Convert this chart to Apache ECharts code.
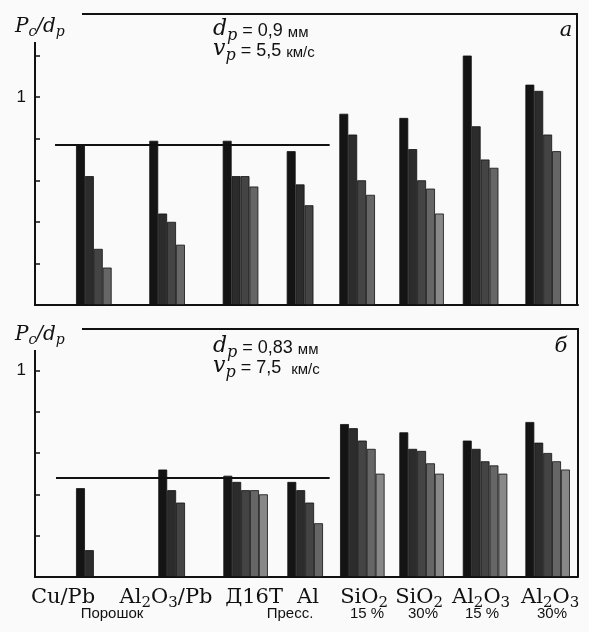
<!DOCTYPE html>
<html><head><meta charset="utf-8">
<script src="https://cdn.jsdelivr.net/npm/echarts@6/dist/echarts.min.js"></script>
<style>html,body{margin:0;padding:0;background:#fafafa}#c{width:589px;height:632px}</style>
</head><body><div id="c"></div>
<script>
// ---- data ----
const categories = ['Cu/Pb', 'Al2O3/Pb', 'Д16Т', 'Al', 'SiO2', 'SiO2', 'Al2O3', 'Al2O3'];
const subCategories = ['Порошок', 'Пресс.', '15 %', '30%', '15 %', '30%'];
// panel a: d_p = 0,9 mm, v_p = 5,5 km/s  (bars per group, decreasing shade order)
const panelA = [
  [0.77, 0.62, 0.27, 0.18],
  [0.79, 0.44, 0.40, 0.29],
  [0.79, 0.62, 0.62, 0.57],
  [0.74, 0.58, 0.48],
  [0.92, 0.82, 0.60, 0.53],
  [0.90, 0.75, 0.60, 0.56, 0.44],
  [1.20, 0.86, 0.70, 0.66],
  [1.06, 1.03, 0.82, 0.74]
];
// panel b: d_p = 0,83 mm, v_p = 7,5 km/s
const panelB = [
  [0.43, 0.13],
  [0.52, 0.42, 0.36],
  [0.49, 0.46, 0.42, 0.42, 0.40],
  [0.46, 0.42, 0.36, 0.26],
  [0.74, 0.72, 0.66, 0.62, 0.50],
  [0.70, 0.62, 0.61, 0.55, 0.50],
  [0.66, 0.62, 0.56, 0.54, 0.50],
  [0.75, 0.65, 0.60, 0.56, 0.52]
];
const refLevels = [0.77, 0.48];
const yTickValues = [[0.2, 0.4, 0.6, 0.8, 1.0, 1.2], [0.2, 0.4, 0.6, 0.8, 1.0]];
const yLabelValues = [1];

// ---- layout (positions / sizes / styles) ----
const L = {
  left: 35, right: 11, W: 589, H: 632,
  tops: [14, 329], bottomsY: [305, 577],
  xMax: 61, yMax: [1.4, 1.2],
  groupStart: [
    [4.61, 12.84, 21.09, 28.28, 34.19, 40.93, 48.06, 55.09],
    [4.61, 13.85, 21.16, 28.35, 34.27, 40.93, 48.06, 55.09]
  ],
  refSpan: [[2.25, 33.1], [2.36, 33.1]],
  labelX: [3.15, 14.72, 24.61, 30.67, 36.97, 43.15, 50.11, 57.87],
  subLabelPx: [112, 290, 367, 423, 482, 552]
};
const shades = ['#141414', '#2c2c2c', '#444444', '#666666', '#888888'];
const ink = '#111';
const unitPx = (L.W - L.left - L.right) / L.xMax;

function toRich(str) {
  let out = '', buf = '';
  for (let i = 0; i < str.length; i++) {
    const ch = str[i], prev = str[i - 1] || '';
    if (/\d/.test(ch) && /[A-Za-z]/.test(prev)) {
      if (buf) { out += '{m|' + buf + '}'; buf = ''; }
      out += '{s|' + ch + '}';
    } else buf += ch;
  }
  if (buf) out += '{m|' + buf + '}';
  return out;
}

const panels = [panelA, panelB];
const grids = [], xAxes = [], yAxes = [], series = [];
panels.forEach((groups, p) => {
  grids.push({ left: L.left, right: L.right, top: L.tops[p], bottom: L.H - L.bottomsY[p] });
  xAxes.push({
    gridIndex: p, type: 'value', min: 0, max: L.xMax,
    axisLine: { show: true, onZero: false, lineStyle: { color: ink, width: 2 } },
    axisTick: { show: false }, splitLine: { show: false },
    axisLabel: p === 1 ? {
      show: true, customValues: L.labelX, margin: 10, color: ink,
      formatter: (v) => {
        let best = 0;
        L.labelX.forEach((x, i) => { if (Math.abs(x - v) < Math.abs(L.labelX[best] - v)) best = i; });
        return toRich(categories[best]);
      },
      rich: {
        m: { fontFamily: 'DejaVu Serif', fontSize: 21, color: ink, verticalAlign: 'bottom', padding: [0, 0, 3, 0] },
        s: { fontFamily: 'DejaVu Serif', fontSize: 15, color: ink, verticalAlign: 'bottom' }
      }
    } : { show: false }
  });
  yAxes.push({
    gridIndex: p, type: 'value', min: 0, max: L.yMax[p], interval: 0.2,
    axisLine: { show: false }, splitLine: { show: false },
    axisTick: { show: true, inside: true, length: 5, customValues: yTickValues[p], lineStyle: { color: ink, width: 1.5 } },
    axisLabel: { show: true, customValues: yLabelValues, formatter: (v) => String(Math.round(v)), color: ink,
      fontFamily: 'Liberation Sans', fontSize: 17, margin: 9 }
  });
  for (let k = 0; k < 5; k++) {
    const data = [];
    groups.forEach((g, gi) => {
      if (g[k] != null) data.push([L.groupStart[p][gi] + k + 0.5, g[k]]);
    });
    const s = {
      type: 'bar', xAxisIndex: p, yAxisIndex: p, barWidth: unitPx, barGap: '-100%',
      data, silent: true,
      itemStyle: { color: shades[k], borderColor: ink, borderWidth: 0.8 }
    };
    if (k === 0) {
      s.markLine = {
        silent: true, symbol: 'none', animation: false,
        label: { show: false },
        lineStyle: { color: ink, width: 2, type: 'solid' },
        data: [[{ coord: [L.refSpan[p][0], refLevels[p]] }, { coord: [L.refSpan[p][1], refLevels[p]] }]]
      };
    }
    series.push(s);
  }
});

function line(x1, y1, x2, y2) {
  return { type: 'line', silent: true, shape: { x1, y1, x2, y2 }, style: { stroke: ink, lineWidth: 2 } };
}
function rtext(x, y, text, rich, align) {
  return { type: 'text', silent: true, x, y, style: { text, rich, align: align || 'left', verticalAlign: 'middle', fill: ink } };
}
const annRich = {
  i: { fontFamily: 'DejaVu Serif', fontStyle: 'italic', fontSize: 22, fill: ink, verticalAlign: 'bottom', padding: [0, 0, 3, 0] },
  s: { fontFamily: 'DejaVu Serif', fontStyle: 'italic', fontSize: 16, fill: ink, verticalAlign: 'bottom' },
  n: { fontFamily: 'Liberation Sans', fontSize: 18, fill: ink, verticalAlign: 'bottom', padding: [0, 0, 3, 0] },
  u: { fontFamily: 'Liberation Sans', fontSize: 15, fill: ink, verticalAlign: 'bottom', padding: [0, 0, 3, 0] }
};
const ylRich = {
  i: { fontFamily: 'DejaVu Serif', fontStyle: 'italic', fontSize: 20, fill: ink, verticalAlign: 'bottom', padding: [0, 0, 3, 0] },
  s: { fontFamily: 'DejaVu Serif', fontStyle: 'italic', fontSize: 14, fill: ink, verticalAlign: 'bottom' }
};
const graphic = [
  line(82, 14, 578, 14), line(577, 14, 577, 305), line(35, 42, 35, 306),
  line(82, 329, 579, 329), line(578, 329, 578, 577), line(35, 350, 35, 578),
  rtext(15, 28, '{i|P}{s|c}{i|/d}{s|p}', ylRich),
  rtext(15, 336, '{i|P}{s|c}{i|/d}{s|p}', ylRich),
  rtext(213, 31, '{i|d}{s|p}{n| = 0,9 }{u|мм}', annRich),
  rtext(213, 51, '{i|v}{s|p}{n| = 5,5 }{u|км/с}', annRich),
  rtext(213, 348, '{i|d}{s|p}{n| = 0,83 }{u|мм}', annRich),
  rtext(213, 368, '{i|v}{s|p}{n| = 7,5  }{u|км/с}', annRich),
  { type: 'text', silent: true, x: 566, y: 31, style: { text: 'a', font: 'italic 21px "DejaVu Serif"', fill: ink, align: 'center', verticalAlign: 'middle' } },
  { type: 'text', silent: true, x: 561, y: 347, style: { text: 'б', font: 'italic 21px "DejaVu Serif"', fill: ink, align: 'center', verticalAlign: 'middle' } }
];
subCategories.forEach((t, i) => {
  graphic.push({ type: 'text', silent: true, x: L.subLabelPx[i], y: 614,
    style: { text: t, font: '15px "Liberation Sans"', fill: ink, align: 'center', verticalAlign: 'middle' } });
});

const chart = echarts.init(document.getElementById('c'), null, { renderer: 'canvas' });
chart.setOption({
  backgroundColor: '#fafafa',
  animation: false,
  grid: grids, xAxis: xAxes, yAxis: yAxes, series, graphic
});
</script></body></html>
